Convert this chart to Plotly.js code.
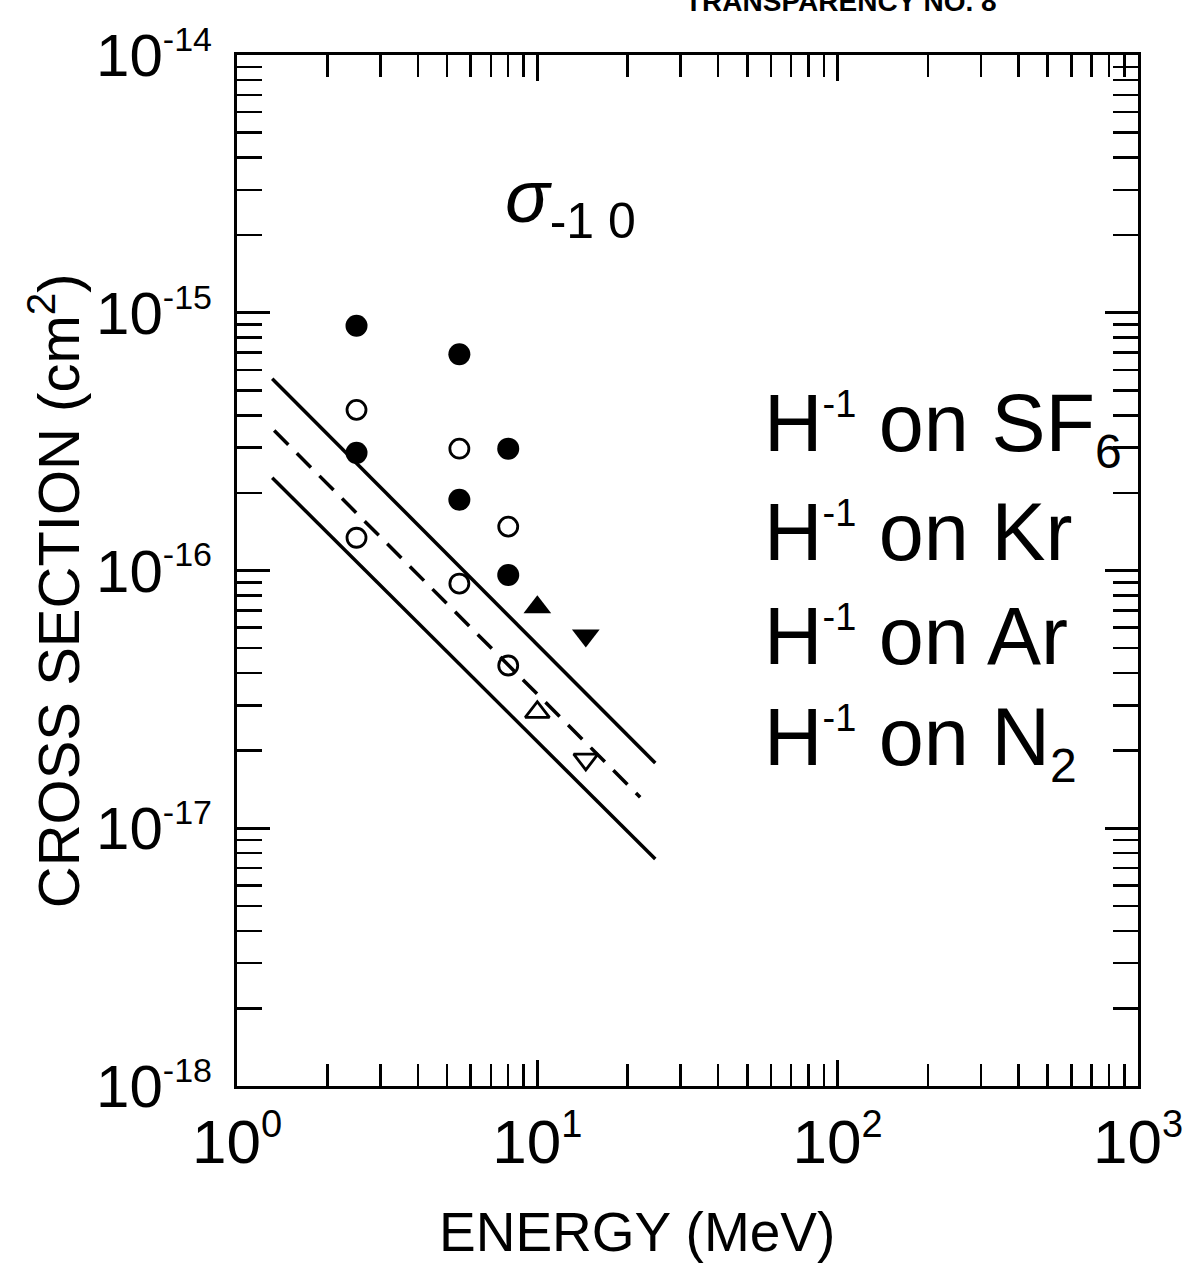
<!DOCTYPE html>
<html>
<head>
<meta charset="utf-8">
<script src="https://cdn.plot.ly/plotly-3.0.1.min.js"></script>
<style>
  html, body { margin: 0; padding: 0; background: #ffffff; }
  #chart { width: 1191px; height: 1274px; }
</style>
</head>
<body>
<div id="chart"></div>
<script>
// ---- Data ----
// Energies in MeV, cross sections in cm^2
const filledCircleE = [2.5, 2.5, 5.5, 5.5, 8.0, 8.0];
const filledCircleS = [8.9e-16, 2.86e-16, 6.9e-16, 1.88e-16, 2.97e-16, 9.6e-17];

const openCircleE = [2.5, 2.5, 5.5, 5.5, 8.0, 8.0];
const openCircleS = [4.2e-16, 1.34e-16, 2.97e-16, 8.9e-17, 1.48e-16, 4.28e-17];

const filledTriUpE = [10.0];
const filledTriUpS = [7.2e-17];
const filledTriDownE = [14.5];
const filledTriDownS = [5.6e-17];

const openTriUpE = [10.0];
const openTriUpS = [2.82e-17];
const openTriDownE = [14.5];
const openTriDownS = [1.85e-17];

const upperLineE = [1.31, 24.7];
const upperLineS = [5.55e-16, 1.79e-17];
const dashedLineE = [1.33, 22.0];
const dashedLineS = [3.49e-16, 1.32e-17];
const lowerLineE = [1.31, 24.7];
const lowerLineS = [2.29e-16, 7.6e-18];

const xTickVals = [1, 10, 100, 1000];
const xExponents = ['0', '1', '2', '3'];
const yTickVals = [1e-18, 1e-17, 1e-16, 1e-15, 1e-14];
const yExponents = ['-18', '-17', '-16', '-15', '-14'];

const seriesTargets = ['SF<sub><span style="font-size:48px">6</span></sub>', 'Kr', 'Ar', 'N<sub><span style="font-size:48px">2</span></sub>'];

const xTitle = 'ENERGY (MeV)';
const yTitle = 'CROSS SECTION (cm<sup>2</sup>)';
const chartTitle = 'TRANSPARENCY NO. 8';

// ---- Tick label texts built from the arrays ----
const xTickText = xExponents.map(e => '10<sup><span style="font-size:38px">' + e + '</span></sup>');
const yTickText = yExponents.map(e => '10<sup><span style="font-size:34px">' + e + '</span></sup>');

// ---- Traces ----
const lineStyle = {color: '#000', width: 3.5};
const traces = [
  {x: upperLineE, y: upperLineS, mode: 'lines', line: lineStyle, hoverinfo: 'skip'},
  {x: dashedLineE, y: dashedLineS, mode: 'lines', line: {color: '#000', width: 3.5, dash: '20px,12px'}, hoverinfo: 'skip'},
  {x: lowerLineE, y: lowerLineS, mode: 'lines', line: lineStyle, hoverinfo: 'skip'},
  {x: filledCircleE, y: filledCircleS, mode: 'markers',
   marker: {symbol: 'circle', size: 22, color: '#000', line: {width: 0}}},
  {x: openCircleE, y: openCircleS, mode: 'markers',
   marker: {symbol: 'circle-open', size: 19, color: '#000', line: {width: 2.8, color: '#000'}}},
  {x: filledTriUpE, y: filledTriUpS, mode: 'markers',
   marker: {symbol: 'triangle-up', size: 24, color: '#000', line: {width: 0}}},
  {x: filledTriDownE, y: filledTriDownS, mode: 'markers',
   marker: {symbol: 'triangle-down', size: 24, color: '#000', line: {width: 0}}},
  {x: openTriUpE, y: openTriUpS, mode: 'markers',
   marker: {symbol: 'triangle-up-open', size: 21, color: '#000', line: {width: 2.8, color: '#000'}}},
  {x: openTriDownE, y: openTriDownS, mode: 'markers',
   marker: {symbol: 'triangle-down-open', size: 21, color: '#000', line: {width: 2.8, color: '#000'}}}
];

// ---- Annotations ----
const baseFont = 'Liberation Sans, Arial, sans-serif';
const labelY = [0.638, 0.537, 0.436, 0.334];
const annotations = seriesTargets.map((t, i) => ({
  text: 'H<sup><span style="font-size:38px">-1</span></sup> on ' + t,
  xref: 'paper', yref: 'paper', x: 0.583, y: labelY[i],
  xanchor: 'left', yanchor: 'middle', showarrow: false,
  font: {family: baseFont, size: 81, color: '#000'}
}));
annotations.push({
  text: '<i>σ</i><sub><span style="font-size:50px">-1 0</span></sub>', xref: 'paper', yref: 'paper', x: 0.295, y: 0.857,
  xanchor: 'left', yanchor: 'middle', showarrow: false,
  font: {family: baseFont, size: 74, color: '#000'}
});
annotations.push({
  text: '<b>' + chartTitle + '</b>', xref: 'paper', yref: 'paper', x: 0.670, y: 1.035,
  xanchor: 'center', yanchor: 'bottom', showarrow: false,
  font: {family: baseFont, size: 28, color: '#000'}
});
// axis titles (placed as in the reference, which is off-centre)
annotations.push({
  text: xTitle, xref: 'paper', yref: 'paper', x: 0.444, y: -0.142,
  xanchor: 'center', yanchor: 'middle', showarrow: false,
  font: {family: baseFont, size: 55, color: '#000'}
});
annotations.push({
  text: yTitle, xref: 'paper', yref: 'paper', x: -0.203, y: 0.480, textangle: -90,
  xanchor: 'center', yanchor: 'middle', showarrow: false,
  font: {family: baseFont, size: 58, color: '#000'}
});

const layout = {
  width: 1191, height: 1274,
  margin: {l: 237, r: 53, t: 55, b: 188},
  paper_bgcolor: '#fff', plot_bgcolor: '#fff',
  showlegend: false,
  xaxis: {
    type: 'log', range: [0, 3], autorange: false,
    showgrid: false, zeroline: false,
    showline: true, linecolor: '#000', linewidth: 3, mirror: 'allticks',
    ticks: 'inside', ticklen: 26, tickwidth: 3, tickcolor: '#000',
    tickvals: xTickVals, ticktext: xTickText,
    tickfont: {family: baseFont, size: 62, color: '#000'},
    ticklabelstandoff: 0,
    minor: {ticks: 'inside', ticklen: 22, tickwidth: 2.5, tickcolor: '#000', dtick: 'D1', showgrid: false}
  },
  yaxis: {
    type: 'log', range: [-18, -14], autorange: false,
    showgrid: false, zeroline: false,
    showline: true, linecolor: '#000', linewidth: 3, mirror: 'allticks',
    ticks: 'inside', ticklen: 33, tickwidth: 3, tickcolor: '#000',
    tickvals: yTickVals, ticktext: yTickText,
    tickfont: {family: baseFont, size: 60, color: '#000'},
    ticklabelstandoff: 10,
    minor: {ticks: 'inside', ticklen: 25, tickwidth: 2.5, tickcolor: '#000', dtick: 'D1', showgrid: false}
  },
  annotations: annotations
};

Plotly.newPlot('chart', traces, layout, {displayModeBar: false, staticPlot: true});
</script>
</body>
</html>
